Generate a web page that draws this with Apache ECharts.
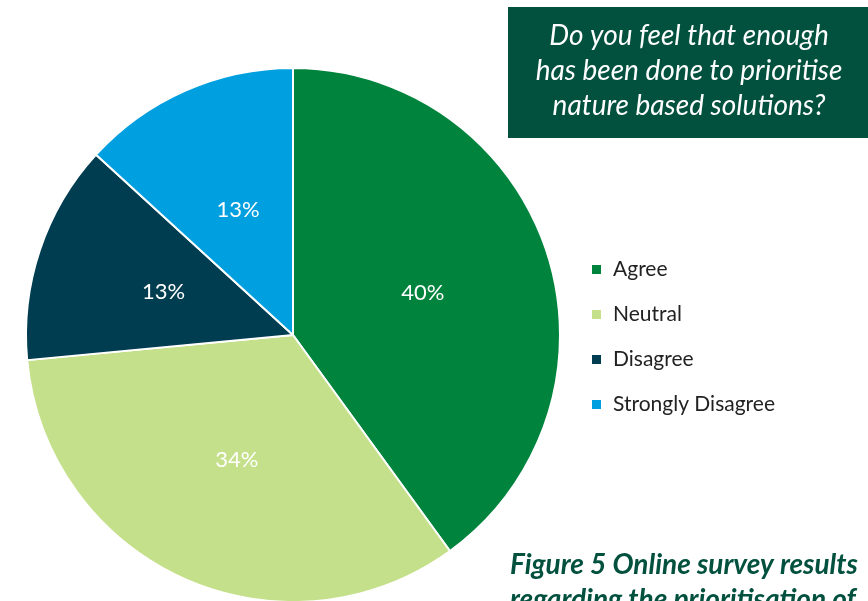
<!DOCTYPE html>
<html><head><meta charset="utf-8">
<script src="https://cdn.jsdelivr.net/npm/echarts@6/dist/echarts.min.js"></script>
<style>html,body{margin:0;padding:0;background:#fff}#c{width:868px;height:601px}</style>
</head><body><div id="c"></div>
<script>
const categories = ['Agree', 'Neutral', 'Disagree', 'Strongly Disagree'];
const values = [40, 33.5, 13.3, 13.2];
const colors = ['#00843D', '#C5E08A', '#003D50', '#009FDF'];
const titleLines = ['Do you feel that enough', 'has been done to prioritise', 'nature based solutions?'];
const captionLines = ['Figure 5 Online survey results', 'regarding the prioritisation of'];

const chart = echarts.init(document.getElementById('c'), null, {renderer: 'canvas'});
chart.setOption({
  animation: false,
  backgroundColor: '#fff',
  color: colors,
  legend: {
    orient: 'vertical',
    left: 585, top: 254,
    itemWidth: 11, itemHeight: 11, itemGap: 24,
    icon: 'rect',
    textStyle: {fontFamily: 'Lato', fontSize: 21, color: '#222', padding: [0,0,0,6]},
    data: categories
  },
  graphic: [
    {type: 'rect', shape: {x: 508, y: 7, width: 360, height: 131}, style: {fill: '#02503E'}},
    {type: 'text', style: {x: 689, y: 71, text: titleLines.join('\n'), align: 'center', verticalAlign: 'middle',
      fill: '#fff', font: 'italic 28px Lato', lineHeight: 35}},
    {type: 'text', style: {x: 510, y: 547, text: captionLines.join('\n'), align: 'left', verticalAlign: 'top',
      fill: '#02503E', font: 'italic bold 28px Lato', lineHeight: 35}}
  ],
  series: [{
    type: 'pie',
    center: [293, 335],
    radius: [0, 267],
    startAngle: 90,
    clockwise: true,
    itemStyle: {borderColor: '#fff', borderWidth: 2},
    label: {show: true, position: 'inside', formatter: p => Math.round(p.percent) + '%', color: '#fff', fontFamily: 'Lato', fontSize: 22},
    labelLine: {show: false},
    emphasis: {disabled: true},
    data: categories.map((n, i) => ({name: n, value: values[i]}))
  }]
});
</script></body></html>
